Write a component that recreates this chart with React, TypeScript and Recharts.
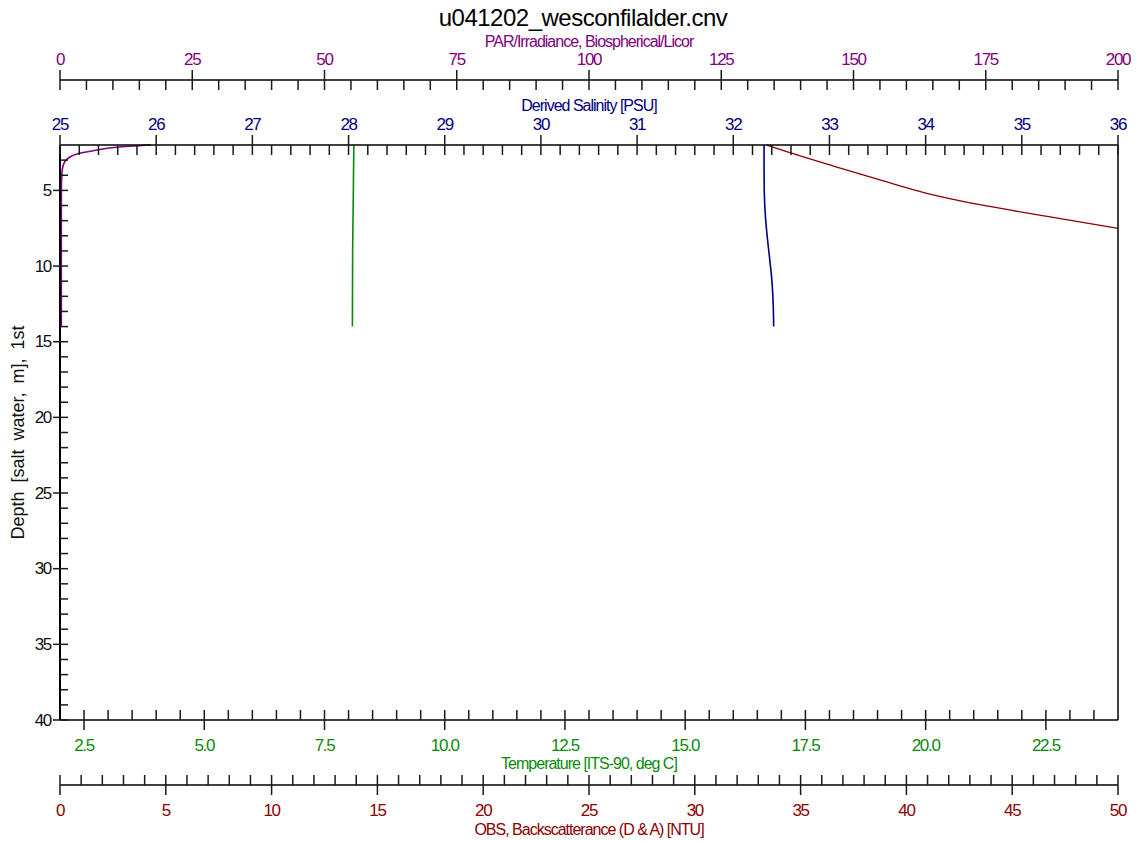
import React from 'react';
import { LineChart, Line, XAxis, YAxis } from 'recharts';

const TITLE = 'u041202_wesconfilalder.cnv';
const FONT = '"Liberation Sans", Arial, sans-serif';

// profiles read from the cast (depth in m)
const parProfile = [
  { depth: 2.0, par: 17.2 },
  { depth: 2.15, par: 10.7 },
  { depth: 2.38, par: 6.3 },
  { depth: 2.59, par: 3.2 },
  { depth: 2.86, par: 1.6 },
  { depth: 3.19, par: 0.76 },
  { depth: 3.63, par: 0.43 },
  { depth: 4.18, par: 0.32 },
  { depth: 4.84, par: 0.26 },
  { depth: 8.0, par: 0.25 },
  { depth: 14.0, par: 0.25 },
];

const salinityProfile = [
  { depth: 2.0, sal: 32.32 },
  { depth: 3.5, sal: 32.32 },
  { depth: 5.0, sal: 32.322 },
  { depth: 6.5, sal: 32.332 },
  { depth: 8.0, sal: 32.352 },
  { depth: 9.5, sal: 32.378 },
  { depth: 11.0, sal: 32.402 },
  { depth: 12.5, sal: 32.415 },
  { depth: 14.0, sal: 32.42 },
];

const tempProfile = [
  { depth: 2.0, temp: 8.11 },
  { depth: 5.0, temp: 8.1 },
  { depth: 9.0, temp: 8.085 },
  { depth: 14.0, temp: 8.08 },
];

const obsProfile = [
  { depth: 2.0, obs: 33.4 },
  { depth: 2.44, obs: 34.34 },
  { depth: 3.32, obs: 36.39 },
  { depth: 4.31, obs: 38.75 },
  { depth: 5.19, obs: 40.96 },
  { depth: 6.03, obs: 43.79 },
  { depth: 6.78, obs: 46.93 },
  { depth: 7.51, obs: 50.0 },
];

const range = (a: number, b: number, step: number) => {
  const out: number[] = [];
  const n = Math.round((b - a) / step);
  for (let i = 0; i <= n; i++) out.push(Math.round((a + i * step) * 1000) / 1000);
  return out;
};

const parTicks = range(0, 200, 5);
const salTicks = range(25, 36, 0.2);
const tempTicks = range(2.5, 23.5, 0.5);
const obsTicks = range(0, 50, 1);
const depthTicks = range(3, 40, 1);

const isMajor = (v: number, step: number) => Math.abs(v / step - Math.round(v / step)) < 1e-6;

const TICK = '#1a1a1a';
const titleFont = { fontFamily: FONT, fontSize: 16, letterSpacing: -1 };
const tickFont = { fontFamily: FONT, fontSize: 17, letterSpacing: -1.3 };

function topTick(color: string, step: number, fmt: (v: number) => string) {
  return (p: any) => {
    const v = p.payload.value;
    const big = isMajor(v, step);
    return (
      <g>
        <line x1={p.x} x2={p.x} y1={big ? p.y - 10 : p.y} y2={p.y + 10} stroke={TICK} strokeWidth={1.5} />
        {big && (
          <text x={p.x} y={p.y - 21} textAnchor="middle" dominantBaseline="central" fill={color} style={tickFont}>
            {fmt(v)}
          </text>
        )}
      </g>
    );
  };
}

function bottomTick(color: string, step: number, fmt: (v: number) => string) {
  return (p: any) => {
    const v = p.payload.value;
    const big = isMajor(v, step);
    return (
      <g>
        <line x1={p.x} x2={p.x} y1={p.y - 10} y2={big ? p.y + 10 : p.y} stroke={TICK} strokeWidth={1.5} />
        {big && (
          <text x={p.x} y={p.y + 25} textAnchor="middle" dominantBaseline="central" fill={color} style={tickFont}>
            {fmt(v)}
          </text>
        )}
      </g>
    );
  };
}

function depthTick(p: any) {
  const v = p.payload.value;
  const big = isMajor(v, 5);
  return (
    <g>
      <line x1={big ? p.x - 7 : p.x} x2={p.x + 8} y1={p.y} y2={p.y} stroke={TICK} strokeWidth={1.5} />
      {big && (
        <text x={p.x - 9} y={p.y} textAnchor="end" dominantBaseline="central" fill="#111" style={tickFont}>
          {v}
        </text>
      )}
    </g>
  );
}

const PURPLE = '#800080';
const NAVY = '#000080';
const GREEN = '#0a8a0a';
const DARKRED = '#8b0000';

// axis ids: the "1" axis of each side sits next to the plot, the "2" axis outside it
export default function App() {
  return (
    <div style={{ position: 'absolute', left: 0, top: 0, width: 1137, height: 841, background: '#fff' }}>
      <div
        style={{
          position: 'absolute',
          left: 54,
          top: 4,
          width: 1058,
          textAlign: 'center',
          fontFamily: FONT,
          fontSize: 24,
          lineHeight: '28px',
          letterSpacing: -0.5,
          color: '#000',
        }}
      >
        {TITLE}
      </div>
      <LineChart
        width={1137}
        height={841}
        layout="vertical"
        margin={{ top: 20, right: 0, bottom: 0, left: 0 }}
        style={{ fontFamily: FONT }}
      >
        <XAxis
          xAxisId="t1sal"
          orientation="top"
          type="number"
          domain={[25, 36]}
          ticks={salTicks}
          interval={0}
          height={65}
          tickSize={0}
          tickMargin={0}
          tickLine={false}
          axisLine={{ stroke: '#000', strokeWidth: 1.5 }}
          tick={topTick(NAVY, 1, (v) => String(v))}
          label={{ value: 'Derived Salinity [PSU]', position: 'insideTop', offset: 20, fill: NAVY, style: titleFont }}
        />
        <XAxis
          xAxisId="t2par"
          orientation="top"
          type="number"
          domain={[0, 200]}
          ticks={parTicks}
          interval={0}
          height={60}
          tickSize={0}
          tickMargin={0}
          tickLine={false}
          axisLine={{ stroke: '#000', strokeWidth: 1.5 }}
          tick={topTick(PURPLE, 25, (v) => String(v))}
          label={{ value: 'PAR/Irradiance, Biospherical/Licor', position: 'insideTop', offset: 16, fill: PURPLE, style: titleFont }}
        />
        <XAxis
          xAxisId="b1temp"
          orientation="bottom"
          type="number"
          domain={[2, 24]}
          ticks={tempTicks}
          interval={0}
          height={65}
          tickSize={0}
          tickMargin={0}
          tickLine={false}
          axisLine={{ stroke: '#000', strokeWidth: 1.5 }}
          tick={bottomTick(GREEN, 2.5, (v) => v.toFixed(1))}
          label={{ value: 'Temperature [ITS-90, deg C]', position: 'insideBottom', offset: 16, fill: GREEN, style: titleFont }}
        />
        <XAxis
          xAxisId="b2obs"
          orientation="bottom"
          type="number"
          domain={[0, 50]}
          ticks={obsTicks}
          interval={0}
          height={56}
          tickSize={0}
          tickMargin={0}
          tickLine={false}
          axisLine={{ stroke: '#000', strokeWidth: 1.5 }}
          tick={bottomTick(DARKRED, 5, (v) => String(v))}
          label={{ value: 'OBS, Backscatterance (D & A) [NTU]', position: 'insideBottom', offset: 6, fill: DARKRED, style: titleFont }}
        />
        <YAxis
          yAxisId="depth"
          dataKey="depth"
          type="number"
          domain={[2, 40]}
          ticks={depthTicks}
          interval={0}
          width={60}
          tickSize={0}
          tickMargin={0}
          tickLine={false}
          axisLine={{ stroke: '#000', strokeWidth: 2 }}
          tick={depthTick}
          label={{
            value: 'Depth [salt water, m], 1st',
            angle: -90,
            position: 'insideLeft',
            offset: 18,
            fill: '#111',
            style: { fontFamily: FONT, fontSize: 18, wordSpacing: 4, textAnchor: 'middle' },
          }}
        />
        <YAxis
          yAxisId="frame"
          orientation="right"
          type="number"
          domain={[2, 40]}
          width={19}
          tick={false}
          tickLine={false}
          axisLine={{ stroke: '#000', strokeWidth: 1.5 }}
        />
        <Line
          data={parProfile}
          dataKey="par"
          xAxisId="t2par"
          yAxisId="depth"
          type="monotone"
          stroke={PURPLE}
          strokeWidth={1.6}
          dot={false}
          isAnimationActive={false}
        />
        <Line
          data={tempProfile}
          dataKey="temp"
          xAxisId="b1temp"
          yAxisId="depth"
          type="linear"
          stroke={GREEN}
          strokeWidth={1.6}
          dot={false}
          isAnimationActive={false}
        />
        <Line
          data={salinityProfile}
          dataKey="sal"
          xAxisId="t1sal"
          yAxisId="depth"
          type="monotone"
          stroke={NAVY}
          strokeWidth={1.6}
          dot={false}
          isAnimationActive={false}
        />
        <Line
          data={obsProfile}
          dataKey="obs"
          xAxisId="b2obs"
          yAxisId="depth"
          type="monotone"
          stroke={DARKRED}
          strokeWidth={1.3}
          dot={false}
          isAnimationActive={false}
        />
      </LineChart>
    </div>
  );
}
